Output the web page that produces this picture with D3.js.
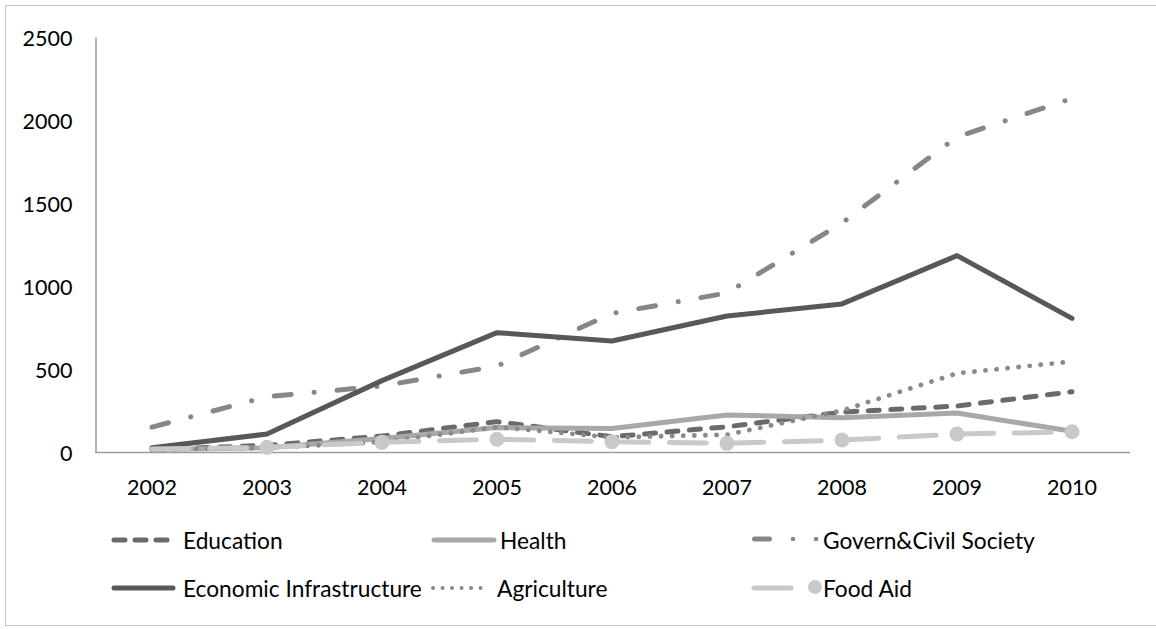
<!DOCTYPE html>
<html>
<head>
<meta charset="utf-8">
<script src="https://cdn.jsdelivr.net/npm/d3@7"></script>
<style>
  html, body { margin: 0; padding: 0; background: #fff; }
  svg { display: block; }
  text { font-family: "Lato", "Open Sans", sans-serif; fill: #000; }
</style>
</head>
<body>
<svg id="chart" width="1156" height="629"></svg>
<script>
// Aid disbursements by sector, 2002-2010
const years = ["2002", "2003", "2004", "2005", "2006", "2007", "2008", "2009", "2010"];
const education   = [15, 40, 96, 183, 92, 152, 240, 277, 363];
const health      = [15, 25, 82, 147, 142, 223, 207, 235, 125];
const govern      = [150, 333, 398, 518, 835, 958, 1380, 1898, 2130];
const economic    = [25, 108, 430, 719, 669, 819, 892, 1183, 805];
const agriculture = [15, 25, 60, 150, 88, 104, 250, 474, 545];
const foodAid     = [18, 28, 58, 77, 62, 52, 72, 108, 122];
const foodAidMarked = [false, true, true, true, true, true, true, true, true];
const yTicks = [0, 500, 1000, 1500, 2000, 2500];
const yTickLabels = ["0", "500", "1000", "1500", "2000", "2500"];

const series = [
  { name: "Education", values: education, color: "#6a6a6a", width: 5, dash: "11,11.5" },
  { name: "Health", values: health, color: "#a8a8a8", width: 5, dash: null },
  { name: "Govern&Civil Society", values: govern, color: "#878787", width: 5, dash: "17,23,0.1,23" },
  { name: "Economic Infrastructure", values: economic, color: "#585858", width: 5, dash: null },
  { name: "Agriculture", values: agriculture, color: "#8a8a8a", width: 4.8, dash: "0.1,11" },
  { name: "Food Aid", values: foodAid, color: "#c9c9c9", width: 5, dash: "37,20.5", marked: foodAidMarked }
];

const svg = d3.select("#chart");

// outer chart frame
svg.append("rect")
  .attr("x", 5.5).attr("y", 5.5)
  .attr("width", 1160).attr("height", 620)
  .attr("fill", "none").attr("stroke", "#c4c4c4").attr("stroke-width", 1);

const x = d3.scaleBand().domain(years).range([94.5, 1129.5]).padding(0);
const y = d3.scaleLinear().domain([0, 2500]).range([452, 37]);
const cx = d => x(d) + x.bandwidth() / 2;

// font sizing so label widths follow the layout
function fitSize(str, target) {
  const t = svg.append("text").attr("font-size", 20).text(str);
  const w = t.node().getComputedTextLength();
  t.remove();
  return 20 * target / w;
}
const tickSize = fitSize("2500", 50);
const legendSize = fitSize("Economic Infrastructure", 239);

// y axis
const yAxis = svg.append("g")
  .attr("transform", "translate(95.5,0)")
  .call(d3.axisLeft(y)
    .tickValues(yTicks)
    .tickFormat((d, i) => yTickLabels[i])
    .tickSize(0).tickPadding(23).tickSizeOuter(0));
yAxis.select(".domain").attr("stroke", "#9d9d9d").attr("stroke-width", 1.5);
yAxis.selectAll("text")
  .attr("font-size", tickSize)
  .attr("font-family", "Lato, sans-serif")
  .attr("fill", "#000")
  .attr("dy", "0.38em");

// x axis
const xAxis = svg.append("g")
  .attr("transform", "translate(0,452)")
  .call(d3.axisBottom(x).tickSize(0).tickSizeOuter(0).tickPadding(0));
xAxis.select(".domain").attr("stroke", "#9d9d9d").attr("stroke-width", 1.5);
xAxis.selectAll("text")
  .attr("font-size", tickSize)
  .attr("font-family", "Lato, sans-serif")
  .attr("fill", "#000")
  .attr("y", 35)
  .attr("dy", "0.38em");

// series lines
const line = d3.line()
  .x((v, i) => cx(years[i]))
  .y(v => y(v));

const plot = svg.append("g");
series.forEach(s => {
  plot.append("path")
    .attr("d", line(s.values))
    .attr("fill", "none")
    .attr("stroke", s.color)
    .attr("stroke-width", s.width)
    .attr("stroke-linecap", "round")
    .attr("stroke-linejoin", "round")
    .attr("stroke-dasharray", s.dash);
  if (s.marked) {
    plot.selectAll(null)
      .data(s.values.map((v, i) => ({ v, i })).filter(d => s.marked[d.i]))
      .join("circle")
      .attr("cx", d => cx(years[d.i]))
      .attr("cy", d => y(d.v))
      .attr("r", 7.5)
      .attr("fill", s.color);
  }
});

// legend
const legend = svg.append("g");
function legendLabel(xp, yp, str) {
  legend.append("text")
    .attr("x", xp).attr("y", yp)
    .attr("dy", "0.35em")
    .attr("font-size", legendSize)
    .text(str);
}
function legendLine(x1, x2, yp, s, dash) {
  legend.append("line")
    .attr("x1", x1).attr("x2", x2).attr("y1", yp).attr("y2", yp)
    .attr("stroke", s.color)
    .attr("stroke-width", s.width)
    .attr("stroke-linecap", "round")
    .attr("stroke-dasharray", dash);
}
const [sEdu, sHea, sGov, sEco, sAgr, sFood] = series;

// row 1
legendLine(114, 168, 540, sEdu, "11,10");
legendLabel(183, 541, sEdu.name);
legendLine(434, 494, 540, sHea, null);
legendLabel(500, 541, sHea.name);
legendLine(754.5, 769.5, 539, sGov, null);
[793, 816].forEach(px => legend.append("circle")
  .attr("cx", px).attr("cy", 539).attr("r", 2.3).attr("fill", sGov.color));
legendLabel(823, 541, sGov.name);

// row 2
legendLine(114, 173, 588, sEco, null);
legendLabel(183, 589, sEco.name);
legendLine(433, 481, 588, { color: sAgr.color, width: 4 }, "0.1,9.4");
legendLabel(497, 589, sAgr.name);
legendLine(754, 791, 588, sFood, null);
legend.append("circle").attr("cx", 815).attr("cy", 587).attr("r", 7).attr("fill", sFood.color);
legendLabel(823, 589, sFood.name);
</script>
</body>
</html>
